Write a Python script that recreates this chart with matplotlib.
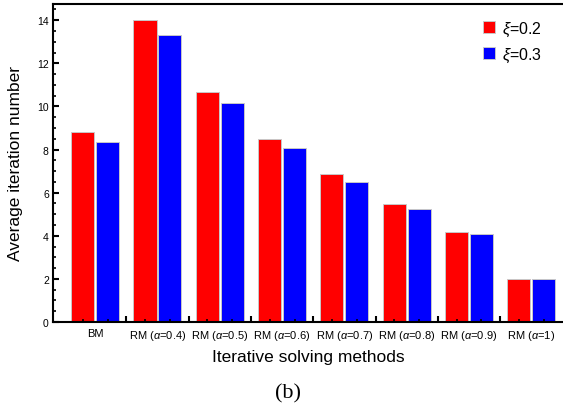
import matplotlib
matplotlib.use("Agg")
import matplotlib.pyplot as plt
import numpy as np
from matplotlib.ticker import MultipleLocator

plt.rcParams['font.family'] = ['Liberation Sans', 'DejaVu Sans']
plt.rcParams['mathtext.fontset'] = 'custom'
plt.rcParams['mathtext.it'] = 'Liberation Sans:italic'
plt.rcParams['mathtext.rm'] = 'Liberation Sans'

categories = ["BM", r"RM ($\alpha$=0.4)", r"RM ($\alpha$=0.5)", r"RM ($\alpha$=0.6)",
              r"RM ($\alpha$=0.7)", r"RM ($\alpha$=0.8)", r"RM ($\alpha$=0.9)", r"RM ($\alpha$=1)"]
xi02 = [8.8, 14.0, 10.65, 8.47, 6.88, 5.47, 4.17, 2.0]
xi03 = [8.33, 13.3, 10.14, 8.07, 6.48, 5.24, 4.08, 2.0]
series_labels = [r"$\xi$=0.2", r"$\xi$=0.3"]

fig = plt.figure(figsize=(5.63, 4.06), dpi=100)
ax = fig.add_axes([53/563, 83/406, 1 - 53/563, 318/406])

x = np.arange(len(categories))
off = 0.2
w = 0.37
ax.bar(x - off, xi02, w, color='#ff0000', edgecolor='#c8c8c8', linewidth=0.7, label=series_labels[0])
ax.bar(x + off, xi03, w, color='#0000ff', edgecolor='#c8c8c8', linewidth=0.7, label=series_labels[1])

ax.set_xlim(-0.676, 7.508)
ax.set_ylim(0, 14.75)

for s in ['left', 'bottom', 'top']:
    ax.spines[s].set_linewidth(1.5)
ax.spines['right'].set_visible(False)

# x ticks
ax.set_xticks(x[:-1] + 0.5)
ax.set_xticklabels([])
ax.set_xticks(np.concatenate([x - off, x + off]), minor=True)
ax.tick_params(axis='x', which='major', direction='in', length=4, width=1.5)
ax.tick_params(axis='x', which='minor', direction='in', length=2.5, width=1.2)

sec = ax.secondary_xaxis('bottom')
sec.set_xticks(x)
sec.set_xticklabels(categories, fontsize=8)
sec.tick_params(length=0, pad=4)
sec.spines['bottom'].set_visible(False)

# y ticks
ax.yaxis.set_major_locator(MultipleLocator(2))
ax.yaxis.set_minor_locator(MultipleLocator(0.5))
ax.tick_params(axis='y', which='major', direction='in', length=4, width=1.5, labelsize=7.5, pad=3)
ax.tick_params(axis='y', which='minor', direction='in', length=2, width=1.2)

ax.set_ylabel("Average iteration number", fontsize=12.5, labelpad=10)
fig.text(308/563, 1 - 358/406, "Iterative solving methods", fontsize=12.5, ha='center', va='center')
fig.text(288/563, 1 - 394/406, "(b)", fontsize=16, ha='center', va='center',
         family=['Liberation Serif', 'DejaVu Serif'])

ax.legend(loc='upper right', bbox_to_anchor=(0.980, 0.987), frameon=False, fontsize=11.5,
          handlelength=0.75, handleheight=0.75, handletextpad=0.4, labelspacing=0.5,
          borderaxespad=0.3)

fig.savefig("out.png", dpi=100)
